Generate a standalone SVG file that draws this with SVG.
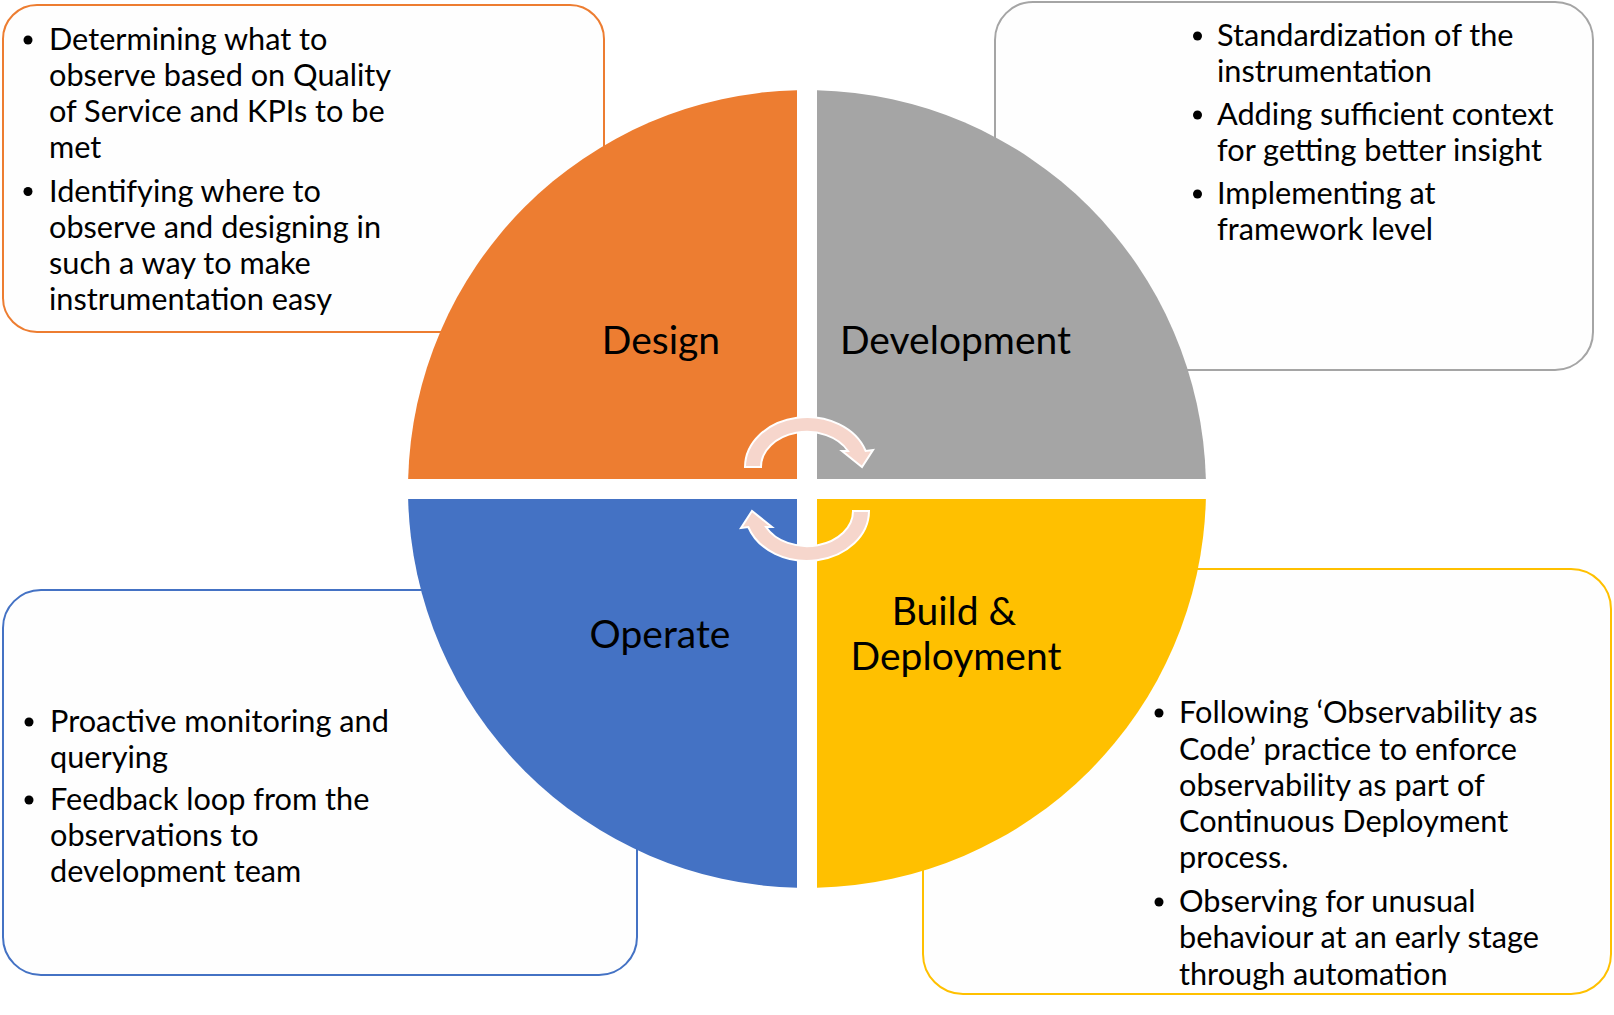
<svg xmlns="http://www.w3.org/2000/svg" width="1614" height="1015" viewBox="0 0 1614 1015">
<style>
.box{fill:#FEFEFE;stroke-width:2}
.t{font-family:Lato,"Liberation Sans",sans-serif;font-size:30.7px;fill:#000}
.lbl{font-family:Lato,"Liberation Sans",sans-serif;font-size:39px;fill:#000;text-anchor:middle}
.bul{fill:#000}
.arr{fill:#F6D6CC;stroke:#FFFFFF;stroke-width:2;stroke-linejoin:miter}
</style>
<rect width="1614" height="1015" fill="#FFFFFF"/>
<g id="design-notes">
<rect class="box" x="3" y="5" width="601" height="327" rx="34" stroke="#ED7D31"/>
<circle class="bul" cx="28" cy="40" r="4.5"/>
<circle class="bul" cx="28" cy="191.5" r="4.5"/>
<text class="t"><tspan x="49" y="50">Determining what to</tspan><tspan x="49" y="86">observe based on Quality</tspan><tspan x="49" y="122">of Service and KPIs to be</tspan><tspan x="49" y="158">met</tspan><tspan x="49" y="201.5">Identifying where to</tspan><tspan x="49" y="237.5">observe and designing in</tspan><tspan x="49" y="273.5">such a way to make</tspan><tspan x="49" y="309.5">instrumentation easy</tspan></text>
</g>
<g id="development-notes">
<rect class="box" x="995" y="2" width="598" height="368" rx="38" stroke="#A5A5A5"/>
<circle class="bul" cx="1197.5" cy="36" r="4.5"/>
<circle class="bul" cx="1197.5" cy="115" r="4.5"/>
<circle class="bul" cx="1197.5" cy="194" r="4.5"/>
<text class="t"><tspan x="1217" y="45.7">Standardization of the</tspan><tspan x="1217" y="81.7">instrumentation</tspan><tspan x="1217" y="125">Adding sufficient context</tspan><tspan x="1217" y="161">for getting better insight</tspan><tspan x="1217" y="204">Implementing at</tspan><tspan x="1217" y="240">framework level</tspan></text>
</g>
<g id="operate-notes">
<rect class="box" x="3" y="590" width="634" height="385" rx="38" stroke="#4472C4"/>
<circle class="bul" cx="29" cy="722" r="4.5"/>
<circle class="bul" cx="29" cy="800" r="4.5"/>
<text class="t"><tspan x="50" y="731.7">Proactive monitoring and</tspan><tspan x="50" y="767.7">querying</tspan><tspan x="50" y="810">Feedback loop from the</tspan><tspan x="50" y="846">observations to</tspan><tspan x="50" y="882">development team</tspan></text>
</g>
<g id="build-notes">
<rect class="box" x="923" y="569" width="688" height="425" rx="40" stroke="#FFC000"/>
<circle class="bul" cx="1159" cy="713" r="4.5"/>
<circle class="bul" cx="1159" cy="902" r="4.5"/>
<text class="t"><tspan x="1179" y="723.3">Following ‘Observability as</tspan><tspan x="1179" y="759.5">Code’ practice to enforce</tspan><tspan x="1179" y="796">observability as part of</tspan><tspan x="1179" y="832">Continuous Deployment</tspan><tspan x="1179" y="868">process.</tspan><tspan x="1179" y="912">Observing for unusual</tspan><tspan x="1179" y="948">behaviour at an early stage</tspan><tspan x="1179" y="984.5">through automation</tspan></text>
</g>
<g id="design">
<path d="M797 479 L408.13 479 A399 399 0 0 1 797 90.13 Z" fill="#ED7D31"/>
<text class="lbl" x="661" y="354">Design</text>
</g>
<g id="development">
<path d="M817 479 L817 90.13 A399 399 0 0 1 1205.87 479 Z" fill="#A5A5A5"/>
<text class="lbl" x="955.5" y="354">Development</text>
</g>
<g id="build-deployment">
<path d="M817 499 L1205.87 499 A399 399 0 0 1 817 887.87 Z" fill="#FFC000"/>
<text class="lbl" x="954" y="625">Build &amp;</text>
<text class="lbl" x="956" y="670">Deployment</text>
</g>
<g id="operate">
<path d="M797 499 L797 887.87 A399 399 0 0 1 408.13 499 Z" fill="#4472C4"/>
<text class="lbl" x="660" y="648">Operate</text>
</g>
<g id="connectors">
<path id="arrow-top" class="arr" d="M745 467 A62 50 0 0 1 865.7 451 L873 450 L862 467 L842 451 L848 451 A46 35 0 0 0 761 467 Z"/>
<path id="arrow-bottom" class="arr" d="M745 467 A62 50 0 0 1 865.7 451 L873 450 L862 467 L842 451 L848 451 A46 35 0 0 0 761 467 Z" transform="rotate(180 807 489)"/>
</g>
</svg>
